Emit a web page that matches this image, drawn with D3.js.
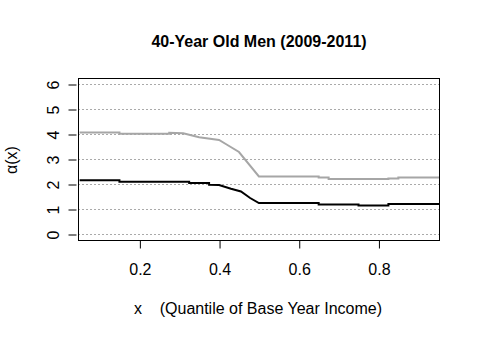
<!DOCTYPE html>
<html>
<head>
<meta charset="utf-8">
<script src="https://cdn.jsdelivr.net/npm/d3@7"></script>
<style>
  body { margin: 0; background: #fff; }
  svg { display: block; font-family: "Liberation Sans", Arial, sans-serif; }
</style>
</head>
<body>
<script>
const width = 480, height = 338;
const margin = {left: 78, right: 41, top: 78, bottom: 98};

// upper (gray) curve
const grayX = [0.05, 0.15, 0.15, 0.275, 0.275, 0.31, 0.35, 0.40, 0.42, 0.45, 0.50, 0.65, 0.65, 0.675, 0.675, 0.825, 0.825, 0.85, 0.85, 0.952];
const grayY = [4.06, 4.06, 4.01, 4.01, 4.05, 4.03, 3.87, 3.76, 3.57, 3.28, 2.30, 2.30, 2.26, 2.26, 2.20, 2.20, 2.22, 2.22, 2.26, 2.26];
// lower (black) curve
const blackX = [0.05, 0.15, 0.15, 0.325, 0.325, 0.375, 0.375, 0.40, 0.43, 0.455, 0.478, 0.50, 0.65, 0.65, 0.75, 0.75, 0.825, 0.825, 0.952];
const blackY = [2.15, 2.15, 2.09, 2.09, 2.04, 2.04, 1.97, 1.96, 1.81, 1.70, 1.44, 1.24, 1.24, 1.18, 1.18, 1.14, 1.14, 1.20, 1.20];

const xTicks = [0.2, 0.4, 0.6, 0.8];
const yTicks = [0, 1, 2, 3, 4, 5, 6];

const svg = d3.select('body').append('svg')
  .attr('width', width)
  .attr('height', height);

const x = d3.scaleLinear().domain([0.046, 0.952]).range([margin.left, width - margin.right]);
const y = d3.scaleLinear().domain([-0.24, 6.24]).range([height - margin.bottom, margin.top]);

// grid
svg.append('g')
  .selectAll('line')
  .data(yTicks)
  .enter().append('line')
    .attr('x1', margin.left).attr('x2', width - margin.right)
    .attr('y1', d => Math.round(y(d)) + 0.5).attr('y2', d => Math.round(y(d)) + 0.5)
    .attr('stroke', '#aaaaaa')
    .attr('stroke-dasharray', '2,2');

const line = d3.line().x(d => x(d[0])).y(d => y(d[1]));

svg.append('path')
  .datum(d3.zip(grayX, grayY))
  .attr('d', line)
  .attr('fill', 'none')
  .attr('stroke', '#a6a6a6')
  .attr('stroke-width', 2);

svg.append('path')
  .datum(d3.zip(blackX, blackY))
  .attr('d', line)
  .attr('fill', 'none')
  .attr('stroke', '#000')
  .attr('stroke-width', 2);

// box
svg.append('rect')
  .attr('x', margin.left + 0.5).attr('y', margin.top + 0.5)
  .attr('width', width - margin.left - margin.right)
  .attr('height', height - margin.top - margin.bottom)
  .attr('fill', 'none')
  .attr('stroke', '#000');

// axes
const xAxis = svg.append('g')
  .attr('transform', `translate(0.5,${height - margin.bottom + 0.5})`)
  .call(d3.axisBottom(x).tickValues(xTicks).tickSize(8).tickPadding(15).tickFormat(d3.format('.1f')));
xAxis.select('.domain').remove();
xAxis.selectAll('text').attr('font-size', 16).attr('fill', '#000').attr('font-family', 'Liberation Sans, Arial, sans-serif');

const yAxis = svg.append('g')
  .attr('transform', `translate(${margin.left - 0.5 - 1},0.5)`)
  .call(d3.axisLeft(y).tickValues(yTicks).tickSize(8).tickFormat(d3.format('d')));
yAxis.select('.domain').remove();
yAxis.selectAll('text')
  .attr('font-size', 16).attr('fill', '#000').attr('font-family', 'Liberation Sans, Arial, sans-serif')
  .attr('text-anchor', 'middle')
  .attr('x', 0).attr('dy', null)
  .attr('transform', 'translate(-23,0) rotate(-90)')
  .attr('dominant-baseline', 'central');

// title and labels
svg.append('text')
  .attr('x', 259).attr('y', 47)
  .attr('text-anchor', 'middle')
  .attr('font-weight', 'bold')
  .attr('font-size', 16)
  .text('40-Year Old Men (2009-2011)');

svg.append('text')
  .attr('x', 258).attr('y', 314)
  .attr('text-anchor', 'middle')
  .attr('font-size', 16)
  .attr('xml:space', 'preserve')
  .text('x    (Quantile of Base Year Income)');

svg.append('text')
  .attr('transform', 'translate(17,160) rotate(-90)')
  .attr('text-anchor', 'middle')
  .attr('font-size', 16)
  .text('α(x)');
</script>
</body>
</html>
